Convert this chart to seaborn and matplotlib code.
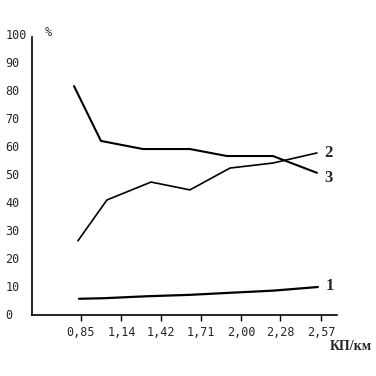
import matplotlib
matplotlib.use("Agg")
import matplotlib.pyplot as plt
import seaborn as sns
import pandas as pd

# data (x in КП/км, y in %)
x_curve1 = [0.836, 1.015, 1.323, 1.631, 1.903, 2.226, 2.548]
y_curve1 = [5.4, 5.6, 6.3, 6.8, 7.5, 8.3, 9.6]
x_curve2 = [0.828, 1.036, 1.352, 1.631, 1.918, 2.226, 2.541]
y_curve2 = [26.1, 40.7, 47.1, 44.3, 52.1, 53.9, 57.5]
x_curve3 = [0.800, 0.993, 1.294, 1.631, 1.896, 2.226, 2.541]
y_curve3 = [81.4, 61.8, 58.9, 58.9, 56.4, 56.4, 50.4]
curve_names = ["1", "2", "3"]
x_ticks = [0.85, 1.14, 1.42, 1.71, 2.00, 2.28, 2.57]
x_tick_labels = ["0,85", "1,14", "1,42", "1,71", "2,00", "2,28", "2,57"]
y_ticks = [0, 10, 20, 30, 40, 50, 60, 70, 80, 90, 100]

sns.set_style("white")
plt.rcParams["font.family"] = ["DejaVu Sans Mono", "DejaVu Sans"]

fig = plt.figure(figsize=(3.76, 3.76), dpi=100)
ax = fig.add_axes([32/376, 1 - 315/376, (337-32)/376, (315-34)/376])

series = [(x_curve1, y_curve1, 1.6), (x_curve2, y_curve2, 1.2), (x_curve3, y_curve3, 1.5)]
label_dy = {"1": 0.4, "2": 0.0, "3": -1.8}
for (xs, ys, lw), name in zip(series, curve_names):
    df = pd.DataFrame({"x": xs, "y": ys})
    sns.lineplot(data=df, x="x", y="y", ax=ax, color="black", lw=lw, sort=False)
    ax.text(xs[-1] + 0.055, ys[-1] + label_dy[name], name,
            fontsize=12, family="Liberation Serif", fontweight="bold",
            ha="left", va="center")

ax.set_xlim(0.499, 2.685)
ax.set_ylim(-0.4, 100)
ax.set_xticks(x_ticks)
ax.set_xticklabels(x_tick_labels)
ax.set_yticks(y_ticks)
ax.set_yticklabels([str(v) for v in y_ticks])
ax.set_xlabel("")
ax.set_ylabel("")

for s in ["top", "right"]:
    ax.spines[s].set_visible(False)
for s in ["left", "bottom"]:
    ax.spines[s].set_color("black")
    ax.spines[s].set_linewidth(1.2)
ax.spines["left"].set_bounds(-0.4, 98.9)

ax.tick_params(axis="x", direction="out", length=4, width=1, color="black",
               pad=4, labelsize=8.5, bottom=True)
ax.tick_params(axis="y", length=0, pad=19, labelsize=8.5, left=True)
for lab in ax.get_yticklabels():
    lab.set_horizontalalignment("left")

fig.text(48/376, 1 - 33/376, "%", fontsize=8.5, ha="center", va="center")
fig.text(372/376, 1 - 347/376, "КП/км", fontsize=10, family="Liberation Serif",
         fontweight="bold", ha="right", va="center")

fig.savefig("out.png", dpi=100, facecolor="white")
